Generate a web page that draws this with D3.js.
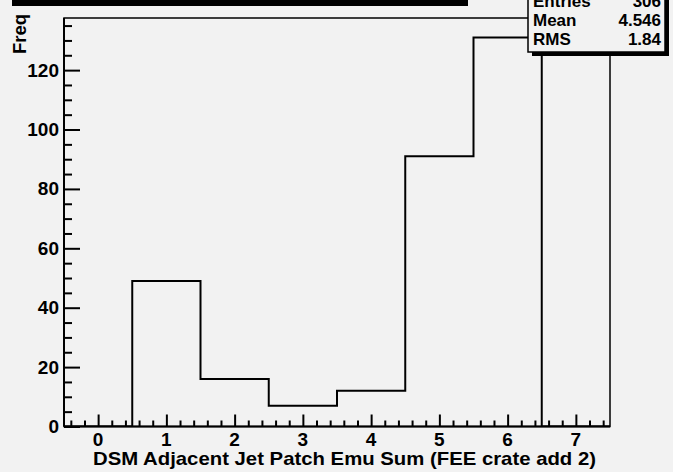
<!DOCTYPE html>
<html>
<head>
<meta charset="utf-8">
<script src="https://cdn.jsdelivr.net/npm/d3@7"></script>
<style>
  html, body { margin: 0; padding: 0; background: #f2f2f2; }
  svg { display: block; }
  text { font-family: "Liberation Sans", Arial, Helvetica, sans-serif; font-weight: bold; fill: #000; }
</style>
</head>
<body>
<script>
// ---- data ----
const binCenters = [0, 1, 2, 3, 4, 5, 6, 7];
const binCounts  = [0, 49, 16, 7, 12, 91, 131, 0];
const xTickValues = [0, 1, 2, 3, 4, 5, 6, 7];
const yTickValues = [0, 20, 40, 60, 80, 100, 120];
const statLabels = ["Entries", "Mean", "RMS"];
const statValues = ["306", "4.546", "1.84"];
const xTitle = "DSM Adjacent Jet Patch Emu Sum (FEE crate add 2)";
const yTitle = "Freq";

const W = 673, H = 472;
const svg = d3.select("body").append("svg").attr("width", W).attr("height", H);
svg.append("rect").attr("width", W).attr("height", H).attr("fill", "#f2f2f2");

const binW = 1;
const xMin = binCenters[0] - binW / 2, xMax = binCenters[binCenters.length - 1] + binW / 2;
const yMax = d3.max(binCounts) * 1.05;

const x = d3.scaleLinear().domain([xMin, xMax]).range([64, 610]);
const y = d3.scaleLinear().domain([0, yMax]).range([426.5, 18]);

// title box shadow (title itself lies above the canvas)
svg.append("rect").attr("x", 12).attr("y", -30).attr("width", 456).attr("height", 36).attr("fill", "#000");

// clip for histogram
svg.append("clipPath").attr("id", "frameClip").append("rect")
  .attr("x", x(xMin)).attr("y", y(yMax)).attr("width", x(xMax) - x(xMin)).attr("height", y(0) - y(yMax));

// frame
svg.append("rect")
  .attr("x", x(xMin)).attr("y", y(yMax))
  .attr("width", x(xMax) - x(xMin)).attr("height", y(0) - y(yMax))
  .attr("fill", "none").attr("stroke", "#000").attr("stroke-width", 1.5);

// histogram outline
const pts = [];
binCenters.forEach((c, i) => {
  pts.push([c - binW / 2, binCounts[i]]);
  pts.push([c + binW / 2, binCounts[i]]);
});
const line = d3.line().x(d => x(d[0])).y(d => y(d[1]));
svg.append("path").attr("d", line(pts)).attr("clip-path", "url(#frameClip)")
  .attr("fill", "none").attr("stroke", "#000").attr("stroke-width", 2);

// x axis
const xMinor = d3.range(-2, 38).map(i => i * 0.2).filter(v => v > xMin && v < xMax && Math.abs(v - Math.round(v)) > 1e-6);
const xAxisMinor = d3.axisTop(x).tickValues(xMinor).tickSize(6).tickFormat("");
const xAxisMajor = d3.axisTop(x).tickValues(xTickValues).tickSize(12).tickFormat("");
[xAxisMinor, xAxisMajor].forEach(ax => {
  const g = svg.append("g").attr("transform", `translate(0,${y(0)})`).call(ax);
  g.select(".domain").remove();
  g.selectAll("line").attr("stroke", "#000").attr("stroke-width", 2);
});
svg.append("line").attr("x1", x(xMin)).attr("x2", x(xMax)).attr("y1", y(0)).attr("y2", y(0))
  .attr("stroke", "#000").attr("stroke-width", 2);
svg.append("g").selectAll("text").data(xTickValues).join("text")
  .attr("x", d => x(d)).attr("y", 446).attr("text-anchor", "middle")
  .style("font-size", "19px").text(d => d);

// y axis
const yMinor = d3.range(0, 28).map(i => i * 5).filter(v => v < yMax && v % 20 !== 0);
const yAxisMinor = d3.axisRight(y).tickValues(yMinor).tickSize(8).tickFormat("");
const yAxisMajor = d3.axisRight(y).tickValues(yTickValues).tickSize(16).tickFormat("");
[yAxisMinor, yAxisMajor].forEach(ax => {
  const g = svg.append("g").attr("transform", `translate(${x(xMin)},0)`).call(ax);
  g.select(".domain").remove();
  g.selectAll("line").attr("stroke", "#000").attr("stroke-width", 2);
});
svg.append("line").attr("x1", x(xMin)).attr("x2", x(xMin)).attr("y1", y(0)).attr("y2", y(yMax))
  .attr("stroke", "#000").attr("stroke-width", 2);
svg.append("g").selectAll("text").data(yTickValues).join("text")
  .attr("x", 59).attr("y", d => y(d) + 6.5).attr("text-anchor", "end")
  .style("font-size", "19px").text(d => d);

// axis titles
svg.append("text").attr("x", 596).attr("y", 465).attr("text-anchor", "end")
  .attr("textLength", 503).attr("lengthAdjust", "spacingAndGlyphs")
  .style("font-size", "19px").text(xTitle);
svg.append("text").attr("transform", "translate(26,14) rotate(-90)").attr("text-anchor", "end")
  .style("font-size", "18.5px").text(yTitle);

// stats box
const sb = { x: 528, y: -20, w: 137, h: 72 };
svg.append("rect").attr("x", sb.x + 4).attr("y", sb.y + 4).attr("width", sb.w).attr("height", sb.h).attr("fill", "#000");
svg.append("rect").attr("x", sb.x).attr("y", sb.y).attr("width", sb.w).attr("height", sb.h)
  .attr("fill", "#f2f2f2").attr("stroke", "#000").attr("stroke-width", 1.5);
const rowY = [7, 26, 45];
svg.append("g").selectAll("text").data(statLabels).join("text")
  .attr("x", 533).attr("y", (d, i) => rowY[i]).style("font-size", "17px").text(d => d);
svg.append("g").selectAll("text").data(statValues).join("text")
  .attr("x", 661).attr("y", (d, i) => rowY[i]).attr("text-anchor", "end").style("font-size", "17px").text(d => d);
</script>
</body>
</html>
